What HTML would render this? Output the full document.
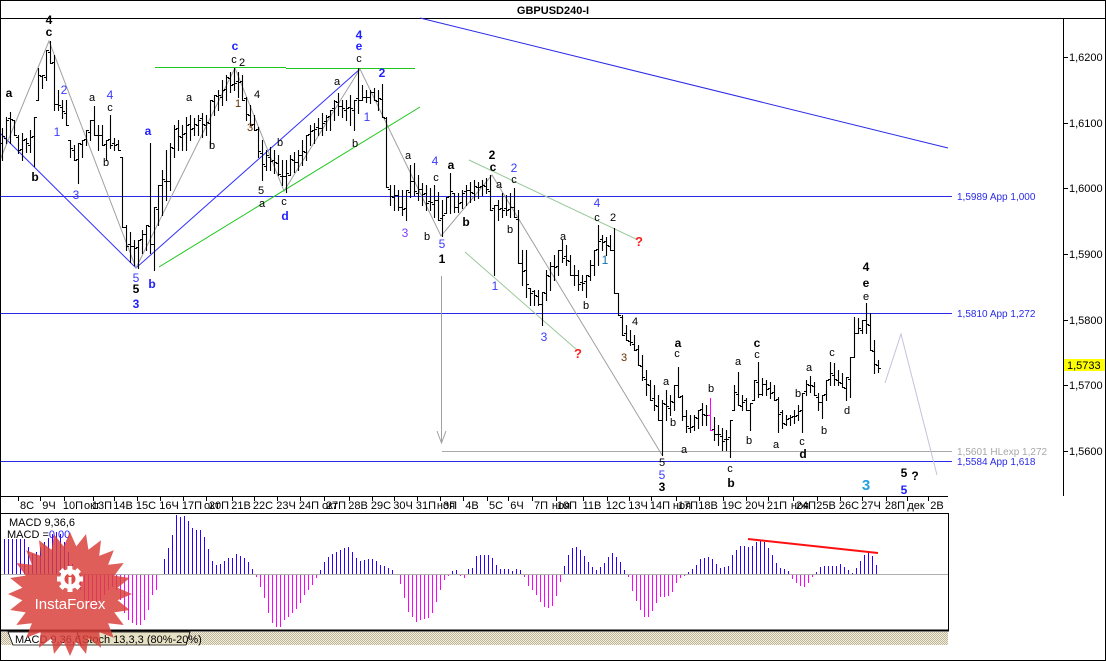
<!DOCTYPE html>
<html><head><meta charset="utf-8">
<style>
html,body{margin:0;padding:0;background:#fff;}
svg{display:block;font-family:"Liberation Sans",Arial,sans-serif;}
.k{font-size:11px;fill:#000;}
.kb{font-size:12px;font-weight:bold;fill:#000;}
.b{font-size:12px;fill:#3a3aff;}
.bb{font-size:12px;font-weight:bold;fill:#2020ff;}
.t{font-size:11px;fill:#000;}
.p{font-size:11px;fill:#000;}
.lv{font-size:10px;fill:#2a2ae8;}
.q{font-size:13px;font-weight:bold;fill:#ff2020;}
</style></head><body>
<svg id="s" width="1106" height="661" viewBox="0 0 1106 661" xmlns="http://www.w3.org/2000/svg">
<defs>
<pattern id="hatch" width="2" height="2" patternUnits="userSpaceOnUse">
<rect width="2" height="2" fill="#f2efe2"/><rect width="1" height="1" fill="#bdb595"/><rect x="1" y="1" width="1" height="1" fill="#bdb595"/>
</pattern>
</defs>
<rect x="0" y="0" width="1106" height="661" fill="#fff"/>
<text x="553" y="14" text-anchor="middle" style="font-size:11px;font-weight:bold">GBPUSD240-I</text>
<line x1="0" y1="18.5" x2="1106" y2="18.5" stroke="#000"/>

<line x1="0" y1="196.5" x2="952" y2="196.5" stroke="#2a2ae8"/>
<line x1="0" y1="313.5" x2="952" y2="313.5" stroke="#2a2ae8"/>
<line x1="0" y1="461.5" x2="952" y2="461.5" stroke="#2a2ae8"/>
<line x1="442" y1="451.5" x2="952" y2="451.5" stroke="#a8a8a8"/>
<text x="957" y="200" class="lv">1,5989 App 1,000</text>
<text x="957" y="317" class="lv">1,5810 App 1,272</text>
<text x="957" y="455" class="lv" style="fill:#a8a8a8">1,5601 HLexp 1,272</text>
<text x="957" y="465" class="lv">1,5584 App 1,618</text>

<line x1="420" y1="18" x2="948" y2="148" stroke="#2a2ae8"/>
<polyline points="0,133 136,268 360,69" fill="none" stroke="#3030ff"/>
<polyline points="0,160 49,41 136,268 235,68 284,191 360,69 441,236 492,175 662,455" fill="none" stroke="#a0a0a0"/>
<line x1="155" y1="67.5" x2="286" y2="67.5" stroke="#1ec81e"/>
<line x1="286" y1="68.5" x2="415" y2="68.5" stroke="#1ec81e"/>
<line x1="159" y1="267" x2="420" y2="107" stroke="#1ec81e"/>
<line x1="469" y1="160" x2="638" y2="240" stroke="#98c898"/>
<line x1="465" y1="252" x2="577" y2="350" stroke="#98c898"/>
<line x1="441.5" y1="276" x2="441.5" y2="443" stroke="#a0a0a0"/>
<polyline points="437,431 441.5,443 446,431" fill="none" stroke="#a0a0a0"/>
<polyline points="885,383 901,334 937,475" fill="none" stroke="#c8c0dc"/>

<g id="bars"></g>

<line x1="1063.5" y1="18" x2="1063.5" y2="496" stroke="#000"/>
<line x1="0" y1="496.5" x2="948" y2="496.5" stroke="#000"/>
<g stroke="#000">
<line x1="1063" y1="57.5" x2="1068" y2="57.5"/>
<line x1="1063" y1="123.5" x2="1068" y2="123.5"/>
<line x1="1063" y1="188.5" x2="1068" y2="188.5"/>
<line x1="1063" y1="254.5" x2="1068" y2="254.5"/>
<line x1="1063" y1="320.5" x2="1068" y2="320.5"/>
<line x1="1063" y1="385.5" x2="1068" y2="385.5"/>
<line x1="1063" y1="451.5" x2="1068" y2="451.5"/>
</g>
<text x="1069" y="61" class="p">1,6200</text>
<text x="1069" y="127" class="p">1,6100</text>
<text x="1069" y="192" class="p">1,6000</text>
<text x="1069" y="258" class="p">1,5900</text>
<text x="1069" y="324" class="p">1,5800</text>
<text x="1069" y="389" class="p">1,5700</text>
<text x="1069" y="455" class="p">1,5600</text>
<rect x="1064" y="359" width="41" height="12" fill="#ffff00"/>
<text x="1067" y="369" class="p">1,5733</text>

<g id="ticks" stroke="#000"></g>
<g class="t" text-anchor="middle">
<text x="27" y="509">8С</text><text x="49" y="509">9Ч</text><text x="73" y="509">10П</text>
<text x="92" y="509">окт</text><text x="102" y="509">13П</text>
<text x="123" y="509">14В</text><text x="146" y="509">15С</text><text x="169" y="509">16Ч</text><text x="192" y="509">17П</text>
<text x="212" y="509">окт</text><text x="219" y="509">20П</text>
<text x="241" y="509">21В</text><text x="263" y="509">22С</text><text x="286" y="509">23Ч</text><text x="309" y="509">24П</text>
<text x="330" y="509">окт</text><text x="336" y="509">27П</text>
<text x="358" y="509">28В</text><text x="381" y="509">29С</text><text x="403" y="509">30Ч</text><text x="426" y="509">31П</text>
<text x="446" y="509">ноя</text><text x="450" y="509">3П</text>
<text x="472" y="509">4В</text><text x="496" y="509">5С</text><text x="517" y="509">6Ч</text><text x="541" y="509">7П</text>
<text x="561" y="509">ноя</text><text x="567" y="509">10П</text>
<text x="592" y="509">11В</text><text x="616" y="509">12С</text><text x="638" y="509">13Ч</text><text x="660" y="509">14П</text>
<text x="682" y="509">ноя</text><text x="688" y="509">17П</text>
<text x="708" y="509">18В</text><text x="732" y="509">19С</text><text x="755" y="509">20Ч</text><text x="777" y="509">21П</text>
<text x="800" y="509">ноя</text><text x="806" y="509">24П</text>
<text x="826" y="509">25В</text><text x="849" y="509">26С</text><text x="871" y="509">27Ч</text><text x="895" y="509">28П</text>
<text x="916" y="509">дек</text><text x="937" y="509">2В</text>
</g>

<rect x="0.5" y="513.5" width="948" height="117" fill="none" stroke="#000"/>
<line x1="0" y1="630.5" x2="949" y2="630.5" stroke="#000" stroke-width="2"/>
<line x1="1" y1="574.5" x2="948" y2="574.5" stroke="#b0b0b0"/>
<g id="macd"></g>
<line x1="748" y1="539" x2="878" y2="553" stroke="#ff1010" stroke-width="2"/>
<text x="9" y="526" class="t">MACD 9,36,6</text>
<text x="7" y="538" class="t">MACD =<tspan fill="#2020ff">0,00</tspan></text>

<rect x="0" y="632" width="948" height="13" fill="url(#hatch)"/>
<polygon points="77,632 190,632 186,645 81,645" fill="#e6e1c4" stroke="#000" stroke-width="0.8"/>
<polygon points="8,632 77,632 81,645 13,645" fill="#fff" stroke="#000" stroke-width="0.8"/>
<text x="15" y="643" class="t">MACD 9,36,6</text>
<text x="82" y="643" class="t">Stoch 13,3,3 (80%-20%)</text>

<g id="logo" opacity="0.84">
<polygon id="star" fill="#da3f3a"/>
</g>
<g fill="#fff">
<circle cx="70" cy="579" r="10"/>
<g id="teeth"></g>
<circle cx="70" cy="579" r="5.5" fill="#dc4b46"/>
<rect x="68.5" y="577" width="3" height="10"/>
<circle cx="70" cy="574" r="1.8"/>
<text x="70" y="609" text-anchor="middle" style="font-size:15px;fill:#fff">InstaForex</text>
</g>

<g text-anchor="middle">
<text x="49" y="24" class="kb">4</text>
<text x="49" y="36" class="kb">c</text>
<text x="9" y="97" class="kb">a</text>
<text x="35" y="181" class="kb">b</text>
<text x="64" y="94" class="b">2</text>
<text x="57" y="136" class="b">1</text>
<text x="76" y="199" class="b">3</text>
<text x="92" y="101" class="k">a</text>
<text x="110" y="99" class="b">4</text>
<text x="110" y="111" class="k">c</text>
<text x="106" y="166" class="k">b</text>
<text x="148" y="135" class="bb">a</text>
<text x="136" y="282" class="b">5</text>
<text x="136" y="293" class="kb">5</text>
<text x="136" y="308" class="bb">3</text>
<text x="152" y="288" class="bb">b</text>
<text x="189" y="101" class="k">a</text>
<text x="212" y="149" class="k">b</text>
<text x="235" y="50" class="bb">c</text>
<text x="234" y="63" class="k">c</text>
<text x="242" y="66" class="k">2</text>
<text x="238" y="107" class="k" style="fill:#603000">1</text>
<text x="257" y="98" class="k">4</text>
<text x="250" y="131" class="k" style="fill:#603000">3</text>
<text x="280" y="146" class="k">b</text>
<text x="261" y="194" class="k">5</text>
<text x="262" y="207" class="k">a</text>
<text x="284" y="205" class="k">c</text>
<text x="285" y="220" class="bb">d</text>
<text x="337" y="85" class="k">a</text>
<text x="355" y="147" class="k">b</text>
<text x="359" y="39" class="bb">4</text>
<text x="359" y="50" class="bb">e</text>
<text x="359" y="62" class="k">c</text>
<text x="382" y="77" class="bb">2</text>
<text x="367" y="121" class="b">1</text>
<text x="405" y="237" class="b" style="fill:#7a3cff">3</text>
<text x="408" y="159" class="k">a</text>
<text x="435" y="165" class="b">4</text>
<text x="436" y="181" class="k">c</text>
<text x="451" y="169" class="kb">a</text>
<text x="427" y="240" class="k">b</text>
<text x="442" y="248" class="b">5</text>
<text x="466" y="226" class="kb">b</text>
<text x="442" y="263" class="kb">1</text>
<text x="492" y="159" class="kb">2</text>
<text x="493" y="171" class="kb">c</text>
<text x="499" y="188" class="k">a</text>
<text x="514" y="172" class="b">2</text>
<text x="514" y="183" class="k">c</text>
<text x="510" y="233" class="k">b</text>
<text x="495" y="290" class="b">1</text>
<text x="544" y="341" class="b">3</text>
<text x="578" y="358" class="q">?</text>
<text x="563" y="240" class="k">a</text>
<text x="586" y="309" class="k">b</text>
<text x="597" y="207" class="b">4</text>
<text x="597" y="221" class="k">c</text>
<text x="613" y="221" class="k">2</text>
<text x="639" y="246" class="q">?</text>
<text x="605" y="264" class="b" style="fill:#1070b0">1</text>
<text x="635" y="325" class="k">4</text>
<text x="624" y="361" class="k" style="fill:#603000">3</text>
<text x="678" y="347" class="kb">a</text>
<text x="677" y="357" class="k">c</text>
<text x="666" y="385" class="k">a</text>
<text x="673" y="426" class="k">b</text>
<text x="684" y="453" class="k">a</text>
<text x="711" y="392" class="k">b</text>
<text x="662" y="466" class="k">5</text>
<text x="662" y="479" class="b">5</text>
<text x="662" y="491" class="kb">3</text>
<text x="730" y="472" class="k">c</text>
<text x="731" y="487" class="kb">b</text>
<text x="738" y="365" class="k">a</text>
<text x="757" y="347" class="kb">c</text>
<text x="757" y="358" class="k">c</text>
<text x="749" y="444" class="k">b</text>
<text x="776" y="448" class="k">a</text>
<text x="798" y="397" class="k">b</text>
<text x="809" y="371" class="k">a</text>
<text x="802" y="445" class="k">c</text>
<text x="803" y="458" class="kb">d</text>
<text x="824" y="434" class="k">b</text>
<text x="832" y="356" class="k">c</text>
<text x="847" y="414" class="k">d</text>
<text x="866" y="271" class="kb">4</text>
<text x="866" y="287" class="kb">e</text>
<text x="866" y="300" class="k">e</text>
<text x="866" y="490" style="font-size:15px;font-weight:bold;fill:#22a0dd">3</text>
<text x="904" y="477" class="kb">5</text>
<text x="915" y="480" class="kb">?</text>
<text x="904" y="494" class="bb">5</text>
</g>

<rect x="0.5" y="0.5" width="1105" height="660" fill="none" stroke="#000"/>
</svg>
<script>
(function(){
var NS="http://www.w3.org/2000/svg";
var K=[[2,128,160],[6,117,143],[10,112,143],[14,120,135],[18,135,153],[22,133,160],[26,138,152],[30,130,152],[34,117,166],[38,68,100],[42,75,88],[46,50,80],[50,41,63],[54,55,110],[58,90,110],[62,100,118],[66,100,125],[70,140,157],[74,145,160],[78,143,183],[82,140,157],[86,130,145],[90,120,140],[94,106,135],[98,125,150],[102,125,145],[106,140,160],[110,115,148],[114,138,150],[118,140,150],[122,157,227],[126,225,250],[130,232,262],[134,240,265],[138,240,268],[142,230,253],[146,225,250],[150,143,253],[154,207,270],[158,185,225],[162,170,215],[166,150,200],[170,143,190],[174,125,157],[178,120,150],[182,125,150],[186,117,150],[190,115,140],[194,118,135],[198,115,135],[202,113,137],[206,115,135],[210,100,146],[214,95,115],[218,90,110],[222,80,105],[226,75,100],[230,72,92],[234,68,90],[238,72,97],[242,75,100],[246,97,120],[250,105,125],[254,115,130],[258,127,157],[262,140,180],[266,150,170],[270,147,170],[274,150,173],[278,155,175],[282,160,185],[286,160,192],[290,155,175],[294,152,172],[298,150,170],[302,140,165],[306,135,160],[310,125,145],[314,123,143],[318,118,135],[322,113,135],[326,115,130],[330,110,130],[334,100,120],[338,93,115],[342,100,117],[346,100,120],[350,95,125],[354,100,130],[358,68,113],[362,85,100],[366,90,102],[370,90,103],[374,88,100],[378,90,110],[382,84,117],[386,117,187],[390,185,205],[394,185,210],[398,190,210],[402,190,215],[406,190,220],[410,165,197],[414,163,195],[418,175,200],[422,183,205],[426,185,210],[430,188,210],[434,185,217],[438,192,220],[442,200,236],[446,197,213],[450,173,213],[454,193,212],[458,193,212],[462,190,208],[466,185,205],[470,182,202],[474,180,200],[478,182,198],[482,180,195],[486,178,193],[490,175,210],[494,205,275],[498,200,220],[502,193,217],[506,195,215],[510,193,217],[514,188,217],[518,210,263],[522,250,285],[526,250,297],[530,288,305],[534,290,305],[538,290,305],[542,292,325],[546,270,300],[550,262,290],[554,255,280],[558,250,275],[562,240,262],[566,245,265],[570,255,275],[574,265,285],[578,270,290],[582,275,290],[586,275,297],[590,260,280],[594,250,275],[598,225,265],[602,235,250],[606,237,255],[610,235,250],[614,228,293],[618,293,315],[622,315,335],[626,325,340],[630,330,345],[634,335,350],[638,345,365],[642,355,380],[646,370,395],[650,380,400],[654,385,410],[658,395,420],[662,400,455],[666,390,420],[670,395,415],[674,385,410],[678,367,397],[682,395,420],[686,410,432],[690,415,432],[694,415,430],[698,410,428],[702,403,425],[706,405,425],[710,398,430],[714,417,440],[718,425,445],[722,428,450],[726,430,450],[730,420,457],[734,385,410],[738,372,405],[742,395,410],[746,398,410],[750,403,430],[754,380,400],[758,362,397],[762,378,395],[766,380,395],[770,382,398],[774,385,400],[778,397,432],[782,410,428],[786,415,425],[790,415,425],[794,410,423],[798,405,420],[802,393,432],[806,380,395],[810,376,392],[814,382,395],[818,393,410],[822,395,418],[826,380,400],[830,362,385],[834,363,385],[838,370,385],[842,373,387],[846,377,400],[850,357,397],[854,317,357],[858,318,333],[862,320,333],[866,303,333],[870,313,350],[874,340,373],[878,360,372]];
var seed=12345;function rnd(){seed=(seed*16807)%2147483647;return (seed-1)/2147483646;}
function cl(v,a,b){return v<a?a:(v>b?b:v);}
var d='',dp='',prev=145;
for(var i=0;i<K.length;i++){
 var x=K[i][0],hi=K[i][1],lo=K[i][2],h=lo-hi;
 var nx=(i+1<K.length)?(K[i+1][1]+K[i+1][2])/2:(hi+lo)/2;
 var o=Math.round(cl(prev+(rnd()-0.5)*4,hi,lo));
 var c=Math.round(cl(nx+(rnd()-0.5)*h*0.6,hi,lo));
 prev=c;
 var s='M'+(x+.5)+' '+hi+'V'+(lo+1)+'M'+(x-2)+' '+(o+.5)+'H'+(x+.5)+'M'+(x+.5)+' '+(c+.5)+'H'+(x+3);
 if(x===710) dp+=s; else d+=s;
}
var g=document.getElementById('bars');
var p=document.createElementNS(NS,'path');p.setAttribute('d',d);p.setAttribute('stroke','#000');p.setAttribute('fill','none');p.setAttribute('stroke-width','1.1');g.appendChild(p);
var p2=document.createElementNS(NS,'path');p2.setAttribute('d',dp);p2.setAttribute('stroke','#ff00ff');p2.setAttribute('fill','none');g.appendChild(p2);

var H=[35,35,35,35,35,35,27,20,22,27,32,36,40,42,40,32,22,10,-5,-15,-25,-30,-35,-30,-25,-20,-15,-12,-15,-25,-38,-45,-48,-50,-50,-45,-35,-20,-15,0,15,26,39,59,57,58,53,46,44,44,37,25,13,9,10,13,16,16,20,18,16,12,5,-2,-12,-23,-38,-48,-52,-52,-45,-42,-38,-34,-28,-20,-15,-10,-3,4,12,17,20,22,24,26,27,22,16,13,14,15,15,13,9,8,6,4,0,-9,-23,-37,-42,-47,-45,-44,-43,-38,-27,-15,-5,-1,3,4,-1,-3,5,6,18,19,19,19,16,9,5,5,5,3,5,4,-2,-11,-15,-20,-27,-32,-33,-31,-21,-7,8,19,26,27,24,18,12,7,4,7,11,17,21,17,12,4,-2,-16,-26,-35,-42,-42,-36,-28,-22,-22,-21,-17,-8,-3,-1,2,5,9,15,16,17,15,10,6,7,8,19,24,28,28,27,28,32,33,32,26,19,11,6,5,3,-4,-8,-11,-12,-8,-2,2,7,8,8,8,8,10,7,4,1,6,13,19,22,18,9];
var dpos='',dneg='';
for(var j=0;j<H.length;j++){
 var xx=4+4*j+.5,v=H[j];
 if(v>0) dpos+='M'+xx+' 574V'+(574-v);
 else if(v<0) dneg+='M'+xx+' 575V'+(575-v);
}
var m=document.getElementById('macd');
var a=document.createElementNS(NS,'path');a.setAttribute('d',dpos);a.setAttribute('stroke','#2a00ff');a.setAttribute('fill','none');m.appendChild(a);
var b=document.createElementNS(NS,'path');b.setAttribute('d',dneg);b.setAttribute('stroke','#ff00ff');b.setAttribute('fill','none');m.appendChild(b);

var ticks=[18,40,64,93,114,137,160,183,206,232,254,277,300,324,349,372,394,417,440,463,487,508,532,556,583,607,629,651,676,699,723,746,768,793,817,840,862,886,907,928];
var tg=document.getElementById('ticks'),td='';
for(var t=0;t<ticks.length;t++){td+='M'+(ticks[t]+.5)+' 496V501';}
var tp=document.createElementNS(NS,'path');tp.setAttribute('d',td);tp.setAttribute('stroke','#000');tg.appendChild(tp);

var pts=[],N=24,cx=70,cy=594,R=62,r=48;
for(var k=0;k<2*N;k++){var ang=Math.PI*k/N-Math.PI/2;var rr=(k%2===0)?R:r;pts.push((cx+rr*Math.cos(ang)).toFixed(1)+','+(cy+rr*Math.sin(ang)).toFixed(1));}
document.getElementById('star').setAttribute('points',pts.join(' '));
var te=document.getElementById('teeth');
for(var q=0;q<8;q++){var rc=document.createElementNS(NS,'rect');rc.setAttribute('x','67.5');rc.setAttribute('y','566');rc.setAttribute('width','5');rc.setAttribute('height','6');rc.setAttribute('transform','rotate('+(q*45)+' 70 579)');te.appendChild(rc);}
})();
</script>
</body></html>
